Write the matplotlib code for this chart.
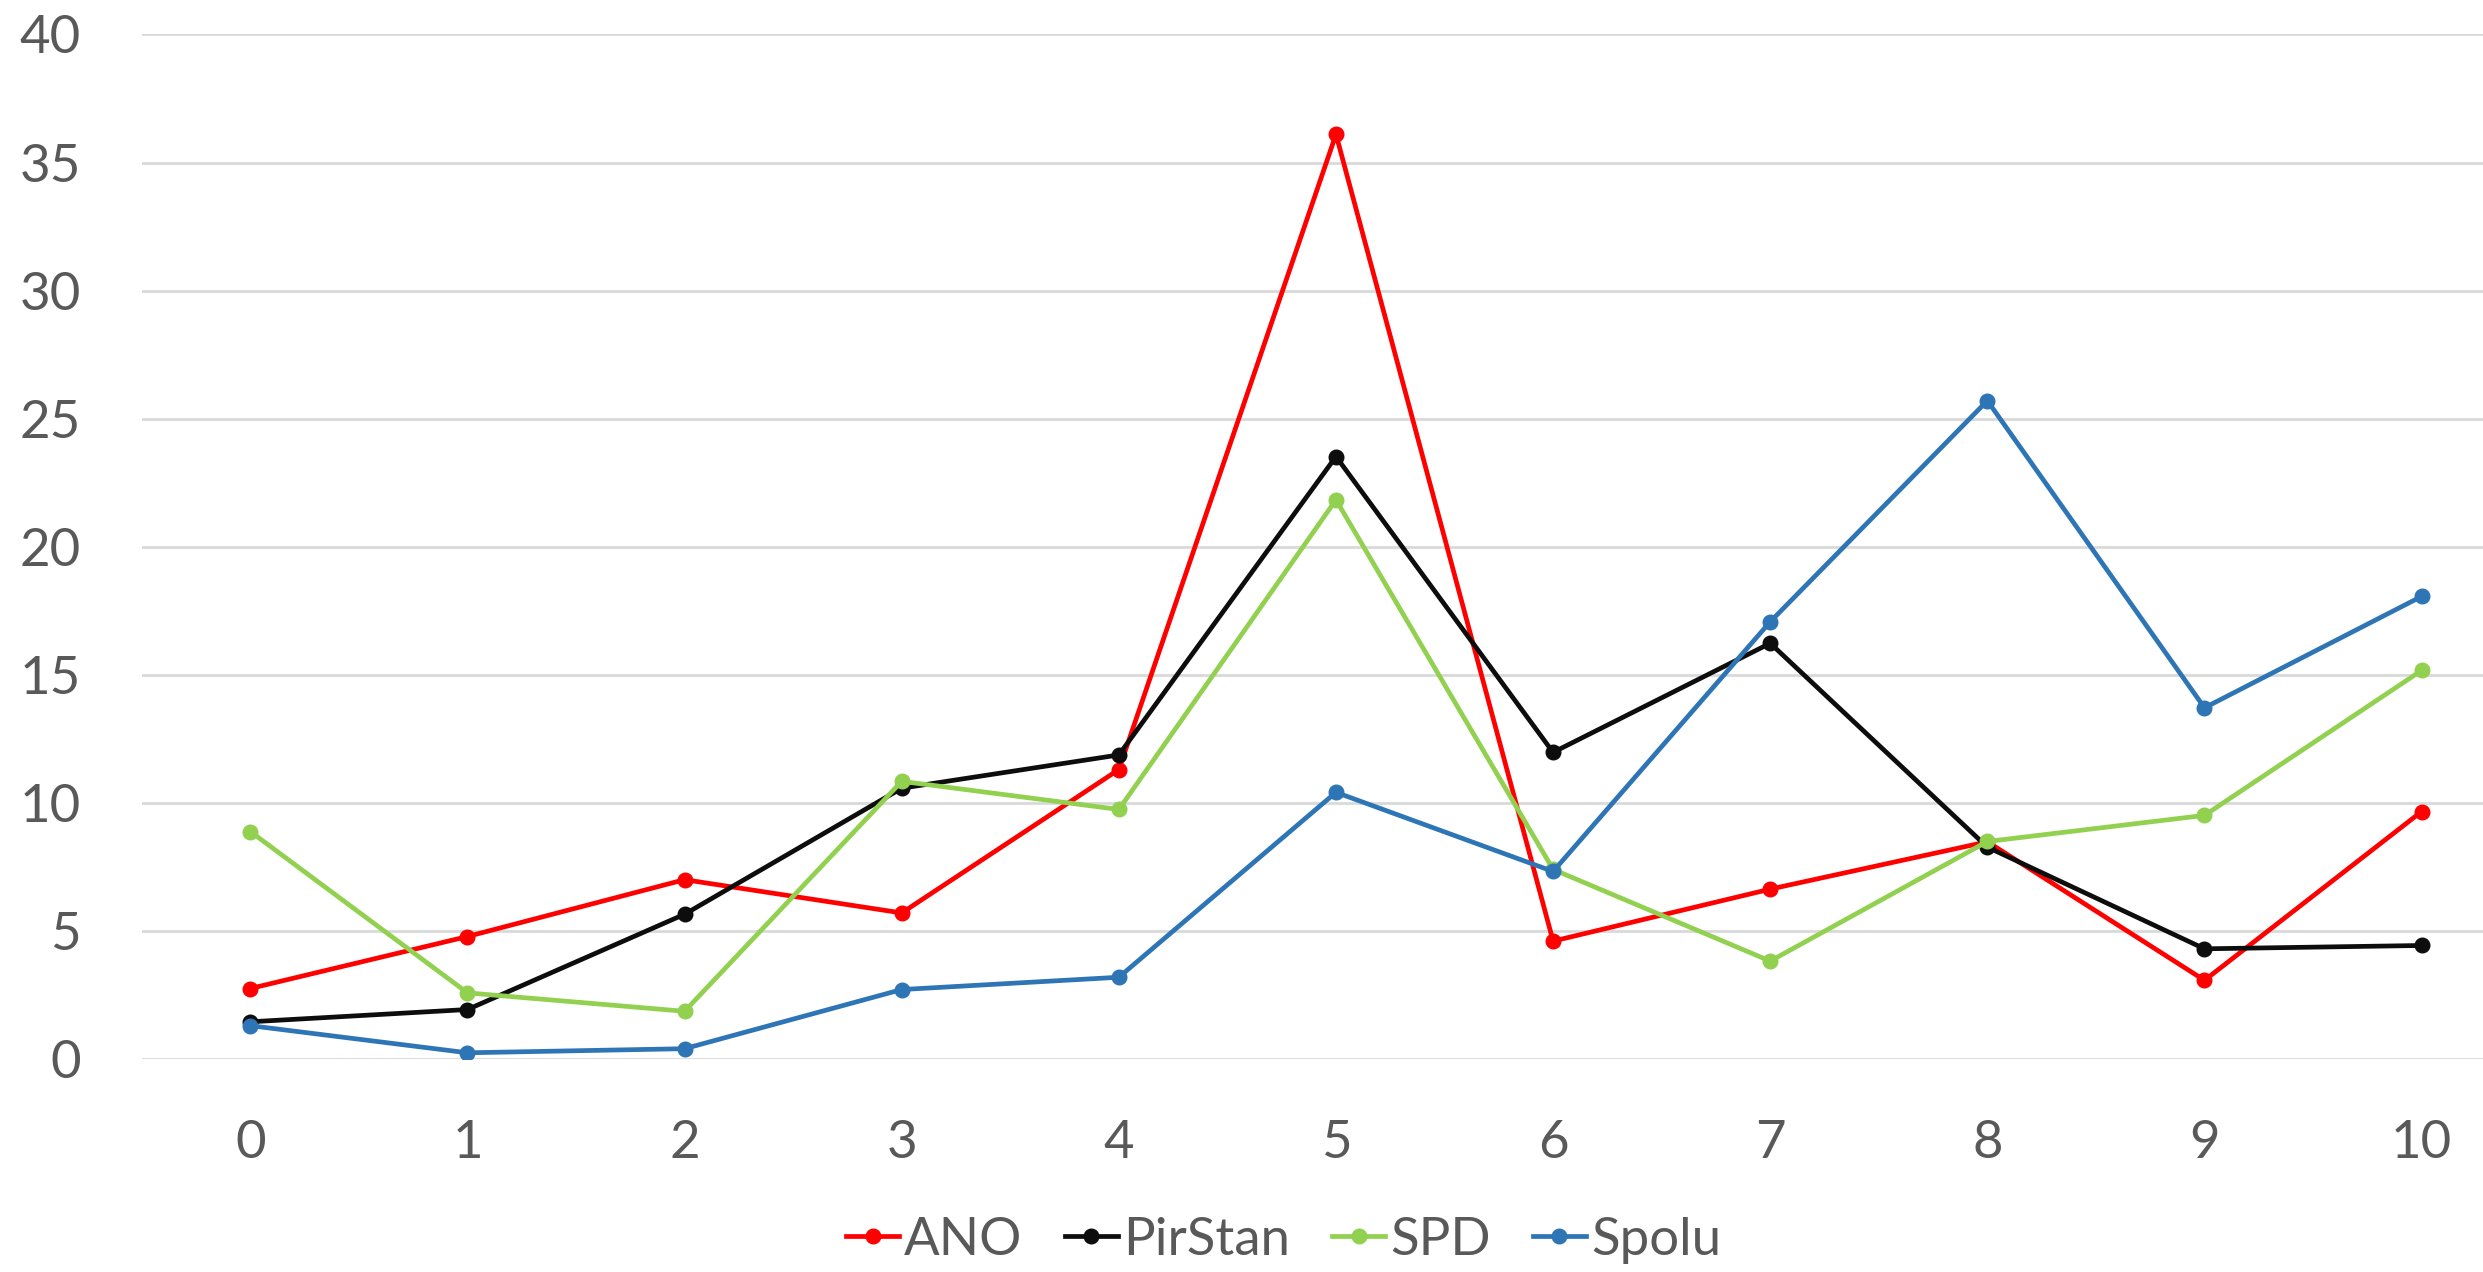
import matplotlib.pyplot as plt
import numpy as np

plt.rcParams['font.family'] = ['Lato', 'DejaVu Sans']

x = np.arange(0, 11)
ano = [2.75, 4.78, 7.0, 5.7, 11.3, 36.1, 4.6, 6.63, 8.48, 3.07, 9.66]
pirstan = [1.45, 1.93, 5.65, 10.57, 11.87, 23.52, 11.97, 16.23, 8.27, 4.3, 4.43]
spd = [8.88, 2.58, 1.86, 10.84, 9.74, 21.83, 7.4, 3.82, 8.49, 9.51, 15.17]
spolu = [1.3, 0.24, 0.4, 2.71, 3.19, 10.41, 7.32, 17.07, 25.7, 13.71, 18.06]

series = [("ANO", ano, "#FF0000"),
          ("PirStan", pirstan, "#0D0D0D"),
          ("SPD", spd, "#92D050"),
          ("Spolu", spolu, "#2E75B6")]

fig = plt.figure(figsize=(24.83, 12.72), dpi=100)
ax = fig.add_axes([0.0571, 0.1675, 0.9619, 0.8054])

for name, vals, col in series:
    ax.plot(x, vals, color=col, lw=3.4, marker="o", markersize=10.5, label=name)

ax.set_xlim(-0.5, 10.5)
ax.set_ylim(0, 40)
ax.set_yticks(range(0, 41, 5))
ax.set_xticks(x)
ax.grid(axis="y", color="#D9D9D9", lw=2)
ax.set_axisbelow(True)
for s in ax.spines.values():
    s.set_visible(False)
ax.tick_params(length=0, labelsize=38, labelcolor="#595959", pad=44)

fig.legend(loc="center", bbox_to_anchor=(0.517, 0.025), ncol=4, frameon=False,
           fontsize=38, labelcolor="#595959", handlelength=1.0,
           handletextpad=0.1, columnspacing=0.8)

fig.savefig("out.png", dpi=100)
